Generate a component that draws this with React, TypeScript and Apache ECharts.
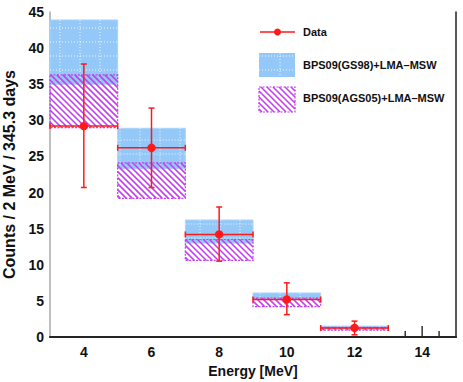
import React, { useEffect, useRef } from "react";
import * as echarts from "echarts";

// ---- data ----
const energy = [4, 6, 8, 10, 12];
const binLow = [3, 5, 7, 9, 11];
const binHigh = [5, 7, 9, 11, 13];
const dataCounts = [29.2, 26.2, 14.2, 5.2, 1.25];
const errLow = [20.7, 20.7, 10.5, 3.1, 0.3];
const errHigh = [37.8, 31.7, 18.0, 7.5, 2.2];
const gs98Low = [35.0, 23.3, 13.0, 5.3, 1.1];
const gs98High = [43.9, 28.9, 16.2, 6.1, 1.5];
const ags05Low = [29.0, 19.2, 10.6, 4.2, 0.95];
const ags05High = [36.3, 24.1, 13.5, 5.4, 1.35];
const xTickLabels = [4, 6, 8, 10, 12, 14];
const minorTicks = [13.5, 14, 14.5];

const FONT = "'Liberation Sans', Arial, Helvetica, sans-serif";
const RED = "#ff1a1a";
const BLUE = "#94c8f8";
const PURPLE = "#c63cf0";

function hatchLines(x0: number, y0: number, x1: number, y1: number, step: number, color: string, lw: number) {
  const out: any[] = [];
  const cMin = x0 - y1;
  const cMax = x1 - y0;
  const start = Math.ceil(cMin / step) * step;
  for (let c = start; c <= cMax; c += step) {
    const lo = Math.max(x0, y0 + c);
    const hi = Math.min(x1, y1 + c);
    if (hi - lo > 0.5) {
      out.push({
        type: "line",
        shape: { x1: lo, y1: lo - c, x2: hi, y2: hi - c },
        style: { stroke: color, lineWidth: lw },
        silent: true,
      });
    }
  }
  return out;
}

function dottedGrid(x0: number, y0: number, x1: number, y1: number) {
  const out: any[] = [];
  const st = { stroke: "rgba(255,255,255,0.85)", lineWidth: 1, lineDash: [1, 2] };
  for (let x = Math.ceil(x0 / 20) * 20; x < x1 - 2; x += 20) {
    if (x > x0 + 2) out.push({ type: "line", shape: { x1: x, y1: y0, x2: x, y2: y1 }, style: st, silent: true });
  }
  for (let y = Math.ceil(y0 / 14) * 14; y < y1 - 2; y += 14) {
    if (y > y0 + 2) out.push({ type: "line", shape: { x1: x0, y1: y, x2: x1, y2: y }, style: st, silent: true });
  }
  return out;
}

export default function App() {
  const ref = useRef<HTMLDivElement>(null);

  useEffect(() => {
    document.body.style.margin = "0";
    const chart = echarts.init(ref.current!, null, { renderer: "svg" });

    const gsData = binLow.map((b, i) => [b, binHigh[i], gs98Low[i], gs98High[i]]);
    const agsData = binLow.map((b, i) => [b, binHigh[i], ags05Low[i], ags05High[i]]);
    const ptData = energy.map((e, i) => [e, dataCounts[i], binLow[i], binHigh[i], errLow[i], errHigh[i]]);
    const tickData = minorTicks.map((t) => [t, 0]);

    const legendHatch = hatchLines(259, 87, 295, 112, 6, PURPLE, 1.6);

    chart.setOption({
      animation: false,
      backgroundColor: "#ffffff",
      grid: { left: 50, right: 7, top: 12, bottom: 45, containLabel: false, outerBoundsMode: "none" },
      xAxis: [
        {
          type: "value",
          min: 3,
          max: 15,
          interval: 1,
          name: "Energy [MeV]",
          nameLocation: "middle",
          nameGap: 26,
          nameTextStyle: { fontFamily: FONT, fontWeight: "bold", fontSize: 14, color: "#111" },
          axisLine: { show: true, lineStyle: { color: "#333", width: 2 } },
          axisTick: { show: false },
          splitLine: { show: false },
          axisLabel: {
            fontFamily: FONT,
            fontWeight: "bold",
            fontSize: 14,
            color: "#111",
            margin: 8,
            formatter: (v: number) => (xTickLabels.includes(v) ? String(v) : ""),
          },
        },
        {
          type: "value",
          position: "top",
          min: 3,
          max: 15,
          axisLine: { show: true, lineStyle: { color: "#222", width: 1.5 } },
          axisTick: { show: false },
          axisLabel: { show: false },
          splitLine: { show: false },
        },
      ],
      yAxis: [
        {
          type: "value",
          min: 0,
          max: 45,
          interval: 5,
          name: "Counts / 2 MeV / 345.3 days",
          nameLocation: "middle",
          nameGap: 26,
          nameTextStyle: { fontFamily: FONT, fontWeight: "bold", fontSize: 16, color: "#111" },
          axisLine: { show: true, lineStyle: { color: "#a8a8b0", width: 1.5 } },
          axisTick: { show: false },
          splitLine: { show: false },
          axisLabel: { fontFamily: FONT, fontWeight: "bold", fontSize: 14, color: "#111", margin: 6 },
        },
        {
          type: "value",
          position: "right",
          min: 0,
          max: 45,
          axisLine: { show: true, lineStyle: { color: "#222", width: 1.5 } },
          axisTick: { show: false },
          axisLabel: { show: false },
          splitLine: { show: false },
        },
      ],
      series: [
        {
          name: "BPS09(GS98)+LMA-MSW",
          type: "custom",
          xAxisIndex: 0,
          yAxisIndex: 0,
          encode: { x: [0, 1], y: [2, 3] },
          data: gsData,
          z: 1,
          renderItem: (params: any, api: any) => {
            const p0 = api.coord([api.value(0), api.value(3)]);
            const p1 = api.coord([api.value(1), api.value(2)]);
            return {
              type: "group",
              children: [
                {
                  type: "rect",
                  shape: { x: p0[0], y: p0[1], width: p1[0] - p0[0], height: p1[1] - p0[1] },
                  style: { fill: BLUE, stroke: "#a9d3fa", lineWidth: 1 },
                },
                ...dottedGrid(p0[0], p0[1], p1[0], p1[1]),
              ],
            };
          },
        },
        {
          name: "BPS09(AGS05)+LMA-MSW",
          type: "custom",
          xAxisIndex: 0,
          yAxisIndex: 0,
          encode: { x: [0, 1], y: [2, 3] },
          data: agsData,
          z: 2,
          renderItem: (params: any, api: any) => {
            const p0 = api.coord([api.value(0), api.value(3)]);
            const p1 = api.coord([api.value(1), api.value(2)]);
            return {
              type: "group",
              children: [
                {
                  type: "rect",
                  shape: { x: p0[0], y: p0[1], width: p1[0] - p0[0], height: p1[1] - p0[1] },
                  style: { fill: "rgba(0,0,0,0)", stroke: PURPLE, lineWidth: 1.2, lineDash: [2, 1.5] },
                },
                ...hatchLines(p0[0], p0[1], p1[0], p1[1], 6, PURPLE, 1.6),
              ],
            };
          },
        },
        {
          name: "Data",
          type: "custom",
          xAxisIndex: 0,
          yAxisIndex: 0,
          encode: { x: 0, y: 1 },
          data: ptData,
          z: 5,
          renderItem: (params: any, api: any) => {
            const c = api.coord([api.value(0), api.value(1)]);
            const xl = api.coord([api.value(2), api.value(1)]);
            const xh = api.coord([api.value(3), api.value(1)]);
            const yl = api.coord([api.value(0), api.value(4)]);
            const yh = api.coord([api.value(0), api.value(5)]);
            const st = { stroke: RED, lineWidth: 1.5 };
            return {
              type: "group",
              children: [
                { type: "line", shape: { x1: xl[0], y1: c[1], x2: xh[0], y2: c[1] }, style: st },
                { type: "line", shape: { x1: xl[0], y1: c[1] - 3, x2: xl[0], y2: c[1] + 3 }, style: st },
                { type: "line", shape: { x1: xh[0], y1: c[1] - 3, x2: xh[0], y2: c[1] + 3 }, style: st },
                { type: "line", shape: { x1: c[0], y1: yl[1], x2: c[0], y2: yh[1] }, style: st },
                { type: "line", shape: { x1: c[0] - 3, y1: yl[1], x2: c[0] + 3, y2: yl[1] }, style: st },
                { type: "line", shape: { x1: c[0] - 3, y1: yh[1], x2: c[0] + 3, y2: yh[1] }, style: st },
                { type: "circle", shape: { cx: c[0], cy: c[1], r: 4.2 }, style: { fill: RED } },
              ],
            };
          },
        },
        {
          name: "ticks",
          type: "custom",
          xAxisIndex: 0,
          yAxisIndex: 0,
          encode: { x: 0, y: 1 },
          data: tickData,
          z: 6,
          renderItem: (params: any, api: any) => {
            const v = api.value(0);
            const p = api.coord([v, 0]);
            const len = Number.isInteger(v) ? 10 : 5;
            return {
              type: "line",
              shape: { x1: p[0], y1: p[1] - 1, x2: p[0], y2: p[1] - 1 - len },
              style: { stroke: "#333", lineWidth: 1.5 },
            };
          },
        },
      ],
      graphic: [
        {
          type: "group",
          children: [
            { type: "line", shape: { x1: 260, y1: 32, x2: 295, y2: 32 }, style: { stroke: RED, lineWidth: 1.5 } },
            { type: "circle", shape: { cx: 277.5, cy: 32, r: 3.5 }, style: { fill: RED } },
            {
              type: "text",
              x: 303,
              y: 32,
              style: { text: "Data", fontFamily: FONT, fontWeight: "bold", fontSize: 11, fill: "#111", verticalAlign: "middle" },
            },
            ...[
              { type: "rect", shape: { x: 259, y: 53, width: 36, height: 24 }, style: { fill: BLUE } },
              ...dottedGrid(259, 53, 295, 77),
            ],
            {
              type: "text",
              x: 303,
              y: 65,
              style: {
                text: "BPS09(GS98)+LMA\u2013MSW",
                fontFamily: FONT,
                fontWeight: "bold",
                fontSize: 11,
                fill: "#111",
                verticalAlign: "middle",
              },
            },
            {
              type: "rect",
              shape: { x: 259, y: 87, width: 36, height: 25 },
              style: { fill: "rgba(0,0,0,0)", stroke: PURPLE, lineWidth: 1.2, lineDash: [2, 1.5] },
            },
            ...legendHatch,
            {
              type: "text",
              x: 303,
              y: 98,
              style: {
                text: "BPS09(AGS05)+LMA\u2013MSW",
                fontFamily: FONT,
                fontWeight: "bold",
                fontSize: 11,
                fill: "#111",
                verticalAlign: "middle",
              },
            },
          ],
        },
      ],
    });

    return () => chart.dispose();
  }, []);

  return <div ref={ref} style={{ width: 463, height: 382, position: "absolute", left: 0, top: 0 }} />;
}
